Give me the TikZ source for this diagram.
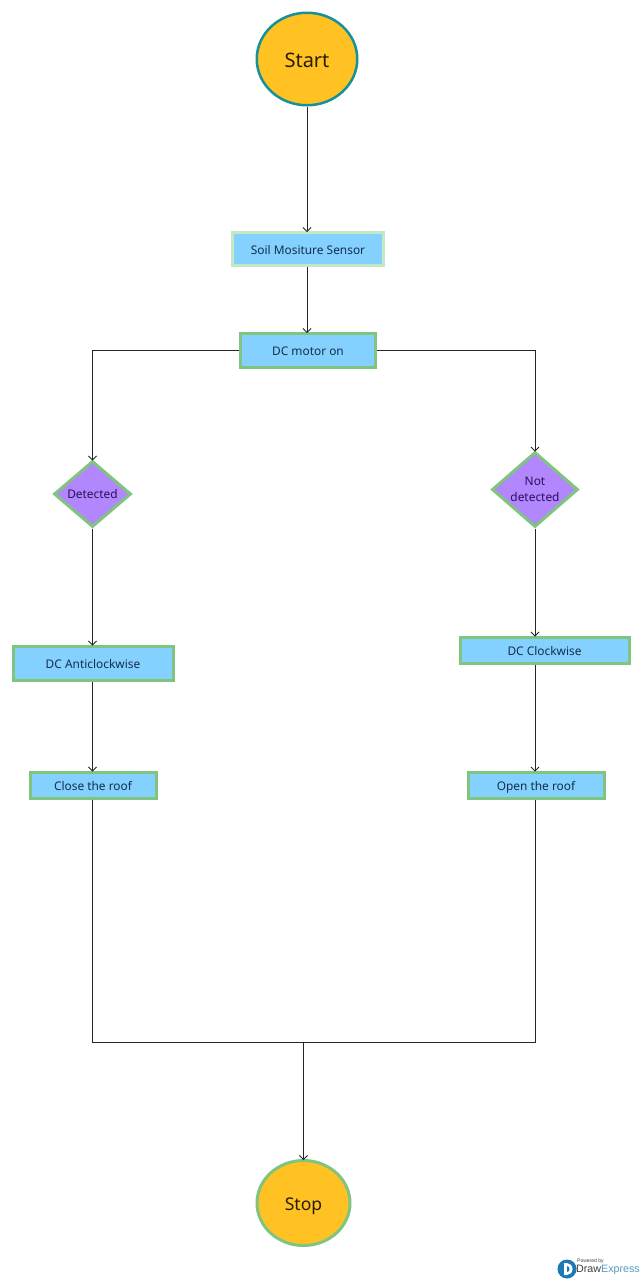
\documentclass[tikz,border=0pt]{standalone}
\usepackage{fontspec}
\setmainfont{Noto Sans}
\newfontfamily\logofont{Liberation Sans}
\usetikzlibrary{arrows.meta,shapes.geometric,calc}
\definecolor{boxblue}{HTML}{84D0FE}
\definecolor{boxgreen}{HTML}{7FC47F}
\definecolor{palegreen}{HTML}{C3E8C6}
\definecolor{amber}{HTML}{FFC222}
\definecolor{teal2}{HTML}{15919A}
\definecolor{violet2}{HTML}{B287FD}
\definecolor{inkblue}{HTML}{123050}
\definecolor{inkviolet}{HTML}{2C0F5E}
\definecolor{logoblue}{HTML}{1E78B4}
\tikzset{
  x=1pt,y=-1pt,
  every node/.style={font=\fontsize{11.9}{14}\selectfont},
  boxstep/.style={rectangle,draw=boxgreen,line width=3pt,fill=boxblue,text=inkblue,inner sep=0pt,text height=10.5pt,text depth=0pt},
  decide/.style={diamond,draw=boxgreen,line width=3pt,fill=violet2,text=inkviolet,inner sep=0pt,align=center,aspect=1.15},
  terminal/.style={ellipse,fill=amber,text=black!85!amber,inner sep=0pt,text depth=0pt},
  flow/.style={draw=black!85,line width=0.8pt,-{Straight Barb[length=4pt,width=8pt]},shorten >=-1pt},
  plain/.style={draw=black!85,line width=0.8pt},
}
\begin{document}
\begin{tikzpicture}
\useasboundingbox[fill=white] (0,0) rectangle (641,1280);
\node[terminal,draw=teal2,line width=2.5pt,minimum width=100.5pt,minimum height=92.5pt,font=\fontsize{20}{22}\selectfont,text height=17pt] (start) at (307,59) {Start};
\node[boxstep,draw=palegreen,minimum width=151pt,minimum height=33pt] (soil) at (308,249) {Soil Mositure Sensor};
\node[boxstep,minimum width=135pt,minimum height=34pt] (motor) at (308,350.5) {DC motor on};
\node[decide,minimum width=77pt,minimum height=66pt] (det) at (92.5,494) {Detected};
\node[decide,minimum width=86pt,minimum height=75pt] (ndet) at (535,489.5) {Not\\[2pt]detected};
\node[boxstep,minimum width=160pt,minimum height=34pt] (anti) at (93,663) {DC Anticlockwise};
\node[boxstep,minimum width=169pt,minimum height=26pt] (clock) at (544.5,650) {DC Clockwise};
\node[boxstep,minimum width=126pt,minimum height=26pt] (close) at (93,785) {Close the roof};
\node[boxstep,minimum width=136pt,minimum height=26pt] (open) at (536,785) {Open the roof};
\node[terminal,draw=boxgreen,line width=3pt,minimum width=93pt,minimum height=85pt,font=\fontsize{17.5}{20}\selectfont,text height=14.5pt] (stop) at (303.5,1203) {Stop};
\coordinate (join) at (303.5,1042);
\coordinate (joinL) at (92.5,1042);
\coordinate (joinR) at (535,1042);
\draw[flow] (start.south) -- (start.south |- soil.north);
\draw[flow] (start.south |- soil.south) -- (start.south |- motor.north);
\draw[flow] (motor.west) -| (det.north);
\draw[flow] (motor.east) -| (ndet.north);
\draw[flow] (det.south) -- (det.south |- anti.north);
\draw[flow] (ndet.south) -- (ndet.south |- clock.north);
\draw[flow] (det.south |- anti.south) -- (det.south |- close.north);
\draw[flow] (ndet.south |- clock.south) -- (ndet.south |- open.north);
\draw[plain] (det.south |- close.south) -- (joinL) -- (joinR) -- (ndet.south |- open.south);
\draw[flow] (join) -- (stop.north);
% watermark
\fill[logoblue] (567,1269) circle (9.5pt);
\fill[white] (564,1263) -- (567,1263) arc (90:-90:5.5pt and 6pt) -- (564,1275) -- cycle;
\fill[logoblue] (567,1266) arc (90:-90:2.5pt and 3pt) -- cycle;
\node[anchor=west,inner sep=0pt,font=\logofont\fontsize{10.7}{12}\selectfont,text=black!75] (logo) at (576,1270) {Draw\textcolor{logoblue!75}{Express}};
\node[anchor=west,inner sep=0pt,font=\logofont\fontsize{5}{6}\selectfont,text=black!75] (powered) at (577,1261) {Powered by};
\end{tikzpicture}
\end{document}
